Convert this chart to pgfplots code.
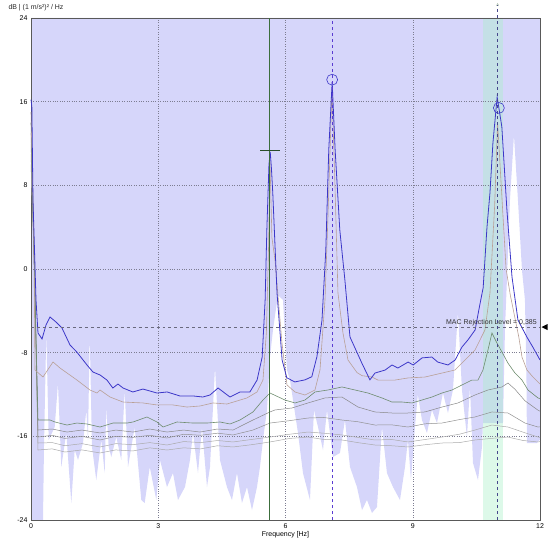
\documentclass[border=0pt]{standalone}
\usepackage{fontspec}
\setmainfont{Liberation Sans}
\usepackage{pgfplots}
\pgfplotsset{compat=1.18}
\usetikzlibrary{calc}

\definecolor{lav}{RGB}{214,214,250}
\definecolor{mint}{RGB}{170,240,200}
\definecolor{mainblue}{RGB}{60,55,200}
\definecolor{tanc}{RGB}{185,160,150}
\definecolor{greenc}{RGB}{110,140,110}
\definecolor{greyc}{RGB}{170,170,170}
\definecolor{gridc}{RGB}{125,125,145}
\definecolor{markgreen}{RGB}{60,110,60}
\definecolor{dashpurple}{RGB}{90,60,210}
\definecolor{dashnavy}{RGB}{70,70,140}
\definecolor{macgrey}{RGB}{105,105,125}

\begin{document}
\begin{tikzpicture}
\begin{axis}[
    set layers,
    scale only axis,
    width=509bp, height=502bp,
    xmin=0, xmax=12, ymin=-24, ymax=24,
    xtick={0,3,6,9,12},
    ytick={-24,-16,-8,0,8,16,24},
    yticklabels={-24,-16,-8,0,8,16,24},
    xticklabels={0,3,6,9,12},
    major tick length=0pt,
    tick label style={font=\fontsize{7}{8}\selectfont},
    xlabel={Frequency [Hz]},
    xlabel style={font=\fontsize{7}{8}\selectfont, yshift=4pt},
    grid=major,
    grid style={gridc, dotted, line width=0.5pt},
    axis line style={gray!70!black, line width=0.6pt},
    clip=false,
]
\coordinate (SW) at (rel axis cs:0,0);
\coordinate (NE) at (rel axis cs:1,1);
\coordinate (NW) at (rel axis cs:0,1);
\coordinate (MAC) at (axis cs:12,-5.55);

% lavender envelope
\addplot[on layer=axis background, fill=lav, draw=none] coordinates {
(0,24) (0,-24) (0.283,-24) (0.306,-17.0) (0.361,-6.02) (0.417,-16.35) (0.559,-15.11)
(0.636,-10.9) (0.714,-18.93) (0.832,-15.68) (0.95,-22.38) (1.03,-17.31) (1.108,-18.26)
(1.226,-16.64) (1.304,-13.48) (1.344,-16.35) (1.384,-6.12) (1.438,-17.02) (1.539,-20.18)
(1.657,-16.35) (1.737,-19.51) (1.775,-13.2) (1.832,-17.02) (1.893,-17.98) (2.011,-16.07)
(2.129,-18.26) (2.209,-11.57) (2.287,-18.93) (2.445,-15.11) (2.6,-22.09) (2.68,-22.38)
(2.8,-18.93) (2.954,-22.09) (3.04,-18.26) (3.206,-20.85) (3.347,-19.51) (3.465,-22.09)
(3.63,-20.85) (3.748,-18.26) (3.819,-15.68) (3.937,-19.51) (4.031,-15.11) (4.149,-20.85)
(4.22,-18.93) (4.338,-9.37) (4.455,-18.26) (4.62,-20.85) (4.738,-22.09) (4.856,-19.51)
(4.974,-22.38) (5.092,-20.85) (5.21,-23.05) (5.328,-20.85) (5.398,-18.93) (5.469,-16.35)
(5.563,-13.48) (5.634,-8.42) (5.705,-5.83) (5.823,-2.49) (5.94,-2.96) (6.035,-9.66)
(6.106,-10.62) (6.294,-15.68) (6.412,-19.51) (6.577,-22.09) (6.671,-13.48) (6.766,-15.11)
(6.884,-17.31) (6.978,-13.48) (7.119,-17.98) (7.284,-17.59) (7.402,-14.44) (7.52,-18.93)
(7.685,-20.85) (7.803,-23.05) (7.921,-22.09) (8.039,-23.33) (8.157,-22.76) (8.274,-15.11)
(8.392,-19.51) (8.534,-20.85) (8.699,-22.09) (8.817,-18.93) (8.887,-16.35) (8.958,-20.18)
(9.052,-15.11) (9.12,-12.0) (9.217,-14.44) (9.335,-15.68) (9.453,-13.48) (9.571,-14.73)
(9.712,-11.86) (9.83,-13.77) (9.948,-11.57) (10.066,-4.11) (10.16,-11.57) (10.278,-16.07)
(10.349,-11.28) (10.42,-18.55) (10.538,-20.18) (10.632,-17.02) (10.655,-14.73)
(11.127,-14.73) (11.174,-5.83) (11.23,0.0) (11.292,6.6) (11.386,12.81) (11.48,6.6)
(11.575,-0.1) (11.645,-2.96) (11.68,-10) (11.692,-16.64) (11.928,-16.64) (12,-16.3) (12,24)
};
% selected band
\addplot[on layer=axis background, fill=mint, fill opacity=0.4, draw=none]
  coordinates {(10.65,-24) (11.12,-24) (11.12,24) (10.65,24)};

% grey curves
\addplot[greyc, line width=0.5pt] coordinates {
(0,10) (0.08,0) (0.165,-17.31) (0.5,-17.2) (0.8,-17.5) (1.2,-17.3) (1.627,-17.59) (2.0,-17.3)
(2.4,-17.4) (2.8,-17.1) (3.206,-17.31) (3.6,-17.1) (4.0,-17.2) (4.4,-16.9) (4.762,-17.02)
(5.2,-16.8) (5.634,-16.54) (6.1,-16.2) (6.53,-16.07) (6.9,-16.3) (7.331,-16.35) (7.7,-16.6)
(8.109,-16.83) (8.5,-16.9) (8.887,-17.02) (9.3,-16.8) (9.689,-16.64) (10.1,-16.6)
(10.467,-16.35) (10.85,-16.2) (11.245,-16.07) (11.6,-16.4) (11.952,-16.54) (12,-16.5)};
\addplot[greyc, line width=0.5pt] coordinates {
(0,11) (0.08,0) (0.165,-16.64) (0.5,-16.6) (0.8,-16.9) (1.2,-16.7) (1.627,-17.02) (2.0,-16.7)
(2.4,-16.8) (2.8,-16.6) (3.206,-16.83) (3.6,-16.5) (4.0,-16.6) (4.4,-16.4) (4.762,-16.54)
(5.2,-16.3) (5.634,-16.07) (6.1,-15.8) (6.53,-15.59) (6.9,-15.7) (7.331,-15.87) (7.7,-16.1)
(8.109,-16.35) (8.5,-16.3) (8.887,-16.54) (9.3,-16.3) (9.689,-16.07) (10.1,-15.8)
(10.467,-15.4) (10.867,-14.92) (11.245,-15.11) (11.6,-15.6) (11.952,-16.07) (12,-16.1)};
\addplot[greyc!85!black, line width=0.5pt] coordinates {
(0,12) (0.08,0) (0.165,-16.07) (0.5,-15.9) (0.8,-16.2) (1.2,-16.0) (1.627,-16.35) (2.0,-16.0)
(2.4,-16.1) (2.8,-15.9) (3.206,-16.16) (3.6,-15.8) (4.0,-15.9) (4.4,-15.7) (4.762,-15.87)
(5.233,-15.4) (5.634,-14.73) (6.1,-14.5) (6.53,-14.25) (6.9,-14.2) (7.331,-14.44) (7.7,-14.6)
(8.109,-14.92) (8.5,-14.9) (8.887,-15.11) (9.3,-14.8) (9.689,-14.73) (10.1,-14.4)
(10.467,-14.15) (10.867,-13.67) (11.245,-13.77) (11.645,-14.73) (11.952,-15.11) (12,-15.1)};
\addplot[greyc!80!black, line width=0.5pt] coordinates {
(0,13) (0.08,0) (0.165,-15.4) (0.5,-15.3) (0.849,-15.59) (1.2,-15.4) (1.627,-15.68) (2.0,-15.4)
(2.405,-15.59) (2.8,-15.3) (3.206,-15.59) (3.6,-15.4) (3.984,-15.59) (4.4,-15.3)
(4.762,-15.4) (5.233,-14.44) (5.634,-13.67) (5.752,-13.48) (6.153,-13.29)
(6.53,-12.81) (6.931,-12.33) (7.331,-12.24) (7.709,-13.2) (8.109,-13.67) (8.51,-13.77)
(8.887,-13.77) (9.288,-13.67) (9.689,-13.2) (10.066,-12.81) (10.467,-12.05) (10.773,-11.57)
(11.103,-11.28) (11.245,-10.9) (11.41,-11.5) (11.645,-12.6) (11.952,-13.5) (12,-13.6)};
% green curve
\addplot[greenc, line width=0.6pt] coordinates {
(0,14) (0.08,0) (0.165,-14.44) (0.448,-14.44) (0.566,-14.63) (0.849,-14.92) (1.084,-14.73)
(1.32,-14.82) (1.627,-15.11) (1.933,-14.73) (2.263,-14.73) (2.405,-14.63) (2.735,-14.15)
(2.97,-14.63) (3.112,-15.11) (3.442,-14.63) (3.819,-14.73) (4.149,-14.73) (4.455,-14.63)
(4.691,-14.82) (4.927,-14.44) (5.233,-13.67) (5.469,-12.53) (5.634,-11.86) (5.988,-12.53)
(6.224,-12.81) (6.459,-12.53) (6.695,-11.76) (7.001,-11.57) (7.331,-11.28) (7.638,-11.57)
(7.944,-11.86) (8.274,-12.33) (8.51,-12.72) (8.746,-12.72) (8.982,-12.81) (9.217,-12.53)
(9.453,-12.24) (9.689,-11.86) (9.925,-11.57) (10.16,-11.09) (10.396,-10.62) (10.538,-10.62)
(10.655,-9.66) (10.773,-7.75) (10.867,-6.12) (10.985,-7.08) (11.103,-7.94) (11.245,-9.0)
(11.41,-9.95) (11.575,-10.62) (11.716,-11.57) (11.952,-12.33) (12,-12.4)};
% tan curve
\addplot[tanc, line width=0.6pt] coordinates {
(0,15) (0.07,2) (0.094,-9.66) (0.283,-10.33) (0.519,-8.89) (0.684,-9.47) (1.084,-10.62)
(1.39,-11.57) (1.556,-11.86) (1.627,-11.57) (1.862,-12.24) (2.169,-12.72) (2.64,-12.81)
(2.97,-13.0) (3.347,-13.0) (3.678,-13.2) (3.984,-13.1) (4.29,-12.81) (4.62,-12.91)
(5.092,-12.33) (5.328,-11.76) (5.469,-10.62) (5.55,-6) (5.6,2) (5.634,10.3) (5.68,3)
(5.752,0.86) (5.917,-7.08) (6.035,-11.09) (6.224,-11.76) (6.459,-12.05) (6.695,-11.57)
(6.813,-9.66) (6.931,-2.96) (7.001,5) (7.096,17.2) (7.166,8) (7.237,-2.3) (7.355,-6.12)
(7.473,-8.70) (7.685,-9.9) (7.803,-10.2) (8.039,-10.33) (8.18,-10.62) (8.581,-10.62)
(8.887,-10.42) (9.288,-10.33) (9.689,-9.95) (9.995,-9.66) (10.231,-8.70) (10.467,-7.75)
(10.702,-5.83) (10.82,-2.3) (10.93,6) (11.0,14.0) (11.1,7) (11.2,0) (11.3,-2.5)
(11.4,-4.5) (11.5,-6.5) (11.575,-8.42) (11.692,-9.66) (11.834,-10.33) (11.952,-10.81) (12,-11.0)};

% main blue curve
\addplot[mainblue, line width=0.8pt] coordinates {
(0,16.2) (0.02,15.5) (0.047,6.6) (0.118,-2.96) (0.165,-6.12) (0.26,-6.69) (0.354,-5.36)
(0.448,-4.59) (0.589,-5.07) (0.73,-5.64) (0.92,-7.27) (1.08,-7.94) (1.32,-9.18) (1.46,-9.85)
(1.63,-10.14) (1.79,-10.62) (1.93,-11.38) (2.05,-11.0) (2.17,-11.38) (2.40,-11.76)
(2.64,-11.48) (2.97,-11.86) (3.21,-11.76) (3.51,-12.14) (3.82,-12.14) (4.05,-12.24)
(4.22,-12.05) (4.41,-11.38) (4.69,-12.24) (4.93,-11.76) (5.16,-11.76) (5.33,-10.62)
(5.45,-8.42) (5.52,-2.96) (5.56,3.73) (5.61,10.0) (5.64,11.2) (5.67,9.5) (5.70,7.27)
(5.80,-2.3) (5.92,-8.7) (6.03,-10.4) (6.22,-10.8) (6.46,-10.6) (6.62,-10.3) (6.74,-8.4)
(6.86,-4.9) (6.95,1.8) (7.02,11.4) (7.10,17.9) (7.17,11.4) (7.28,3.73) (7.40,-1.05)
(7.52,-6.5) (7.66,-7.75) (7.80,-9.0) (7.99,-10.6) (8.11,-9.95) (8.35,-9.66) (8.51,-9.18)
(8.65,-9.47) (8.89,-8.9) (9.01,-9.18) (9.22,-8.5) (9.45,-8.42) (9.59,-8.9) (9.83,-9.18)
(10.0,-8.7) (10.16,-7.46) (10.30,-6.79) (10.47,-5.83) (10.58,-3.44) (10.66,-1.8)
(10.75,4.0) (10.82,7.27) (10.89,12.05) (10.99,16.45) (11.10,13.6) (11.22,5.64)
(11.34,-0.77) (11.48,-4.88) (11.69,-6.5) (11.83,-7.46) (12.0,-8.7)};

% MAC rejection level
\addplot[macgrey, dashed, line width=0.6pt] coordinates {(0,-5.55) (12,-5.55)};
\node[anchor=south east, inner sep=1pt, font=\fontsize{7}{8}\selectfont, text=gray!40!black]
  at (axis cs:11.95,-5.55) {MAC Rejection Level = 0,385};

% mode lines
\addplot[markgreen, line width=0.6pt] coordinates {(5.61,-24) (5.61,24)};
\addplot[markgreen!70!black, line width=1.3pt] coordinates {(5.40,11.3) (5.86,11.3)};
\addplot[dashpurple, dashed, line width=0.7pt] coordinates {(7.1,-24) (7.1,24)};
\addplot[dashnavy, dashed, line width=0.7pt] coordinates {(11.0,-24) (11.0,25.2)};
\node[font=\fontsize{4}{4}\selectfont, text=greenc, inner sep=0pt, anchor=south]
  at (axis cs:11.0,25.1) {A};

% peak circles
\addplot[only marks, mark=o, mark size=5.5pt, mainblue, line width=0.6pt]
  coordinates {(7.10,18.1) (11.03,15.4)};
\end{axis}
\fill[black] ($(MAC)+(1.5bp,0bp)$) -- ++(6bp,3bp) -- ++(0bp,-6bp) -- cycle;
\node[anchor=west, font=\fontsize{7}{8}\selectfont, text=gray!30!black]
  at ($(NW)+(-26bp,10bp)$) {dB | (1 m/s²)² / Hz};
\pgfresetboundingbox
\useasboundingbox ($(SW)+(-31bp,-23bp)$) rectangle ($(NE)+(10bp,18bp)$);
\end{tikzpicture}
\end{document}
